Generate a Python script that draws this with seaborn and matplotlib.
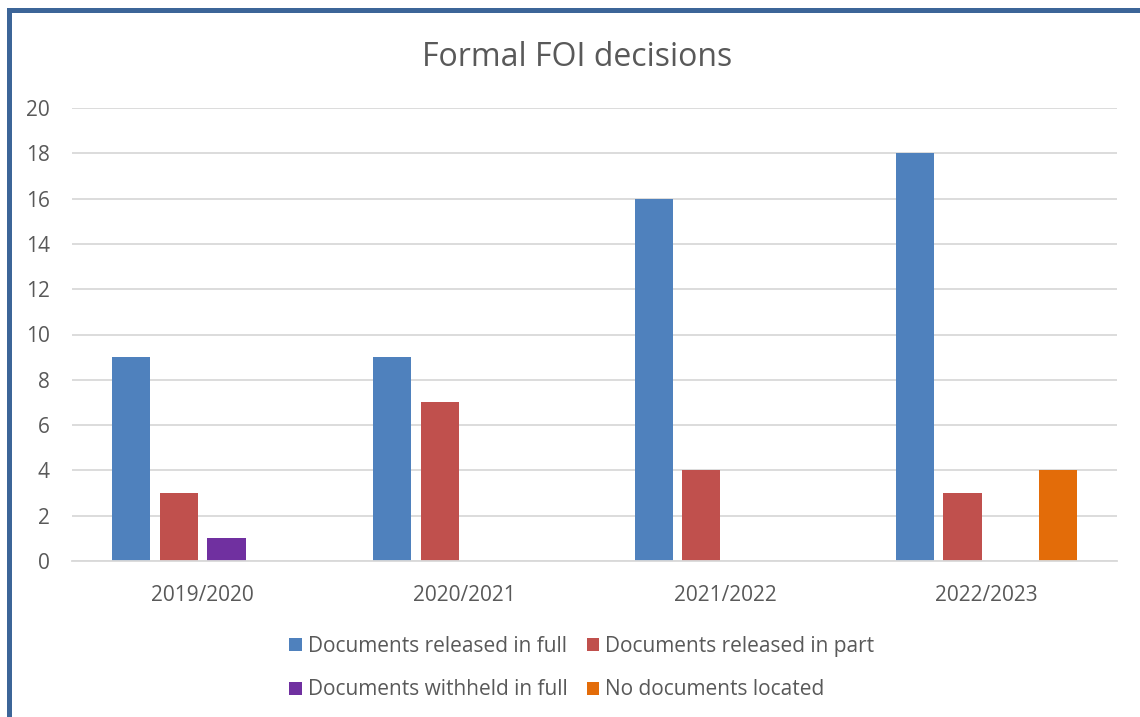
import matplotlib
matplotlib.use("Agg")
import matplotlib.pyplot as plt
from matplotlib.patches import Rectangle
import seaborn as sns
import pandas as pd

years = ["2019/2020", "2020/2021", "2021/2022", "2022/2023"]
series = ["Documents released in full", "Documents released in part",
          "Documents withheld in full", "No documents located"]
released_full = [9, 9, 16, 18]
released_part = [3, 7, 4, 3]
withheld_full = [1, 0, 0, 0]
none_located = [0, 0, 0, 4]
colors = ["#4F81BD", "#C0504D", "#7030A0", "#E36C09"]

rows = []
for s, vals in zip(series, [released_full, released_part, withheld_full, none_located]):
    for y, v in zip(years, vals):
        rows.append({"year": y, "series": s, "value": v})
df = pd.DataFrame(rows)

plt.rcParams['font.family'] = ['Open Sans', 'DejaVu Sans']
text_color = "#595959"

fig = plt.figure(figsize=(11.4, 7.17), dpi=100)
ax = fig.add_axes([72/1140, 1-561/717, (1117-72)/1140, (561-108)/717])

sns.barplot(data=df, x="year", y="value", hue="series", hue_order=series,
            palette=colors, saturation=1, width=0.73, gap=0.2, linewidth=0, ax=ax,
            errorbar=None, legend=True)

ax.set_ylim(0, 20)
ax.set_yticks(range(0, 21, 2))
ax.set_xlim(-0.5, 3.5)
ax.grid(axis="y", color="#D9D9D9", linewidth=1.3)
ax.set_axisbelow(True)
for side in ["top", "right", "left"]:
    ax.spines[side].set_visible(False)
ax.spines["bottom"].set_color("#D9D9D9")
ax.spines["bottom"].set_linewidth(1.3)
ax.tick_params(axis="both", length=0, labelsize=15, colors=text_color)
ax.tick_params(axis="x", pad=17)
ax.tick_params(axis="y", pad=16)
ax.set_xlabel("")
ax.set_ylabel("")

ax.get_legend().remove()
handles, labels = ax.get_legend_handles_labels()
order = [0, 2, 1, 3]
fig.legend([handles[i] for i in order], [labels[i] for i in order], ncol=2,
           loc="center", bbox_to_anchor=(582/1140, 1-668/717),
           frameon=False, fontsize=15, labelcolor=text_color, handlelength=0.6,
           handleheight=0.6, handletextpad=0.3, columnspacing=0.9, labelspacing=1.1)

fig.text(577/1140, 1-58/717, "Formal FOI decisions", ha="center", va="center",
         fontsize=23, color=text_color)

fig.add_artist(Rectangle((8.5/1140, -0.5), 2, 1 - 9.5/717 + 0.5, transform=fig.transFigure,
                         fill=False, edgecolor="#3C6598", linewidth=3.6))

fig.savefig("out.png", dpi=100, facecolor="white")
